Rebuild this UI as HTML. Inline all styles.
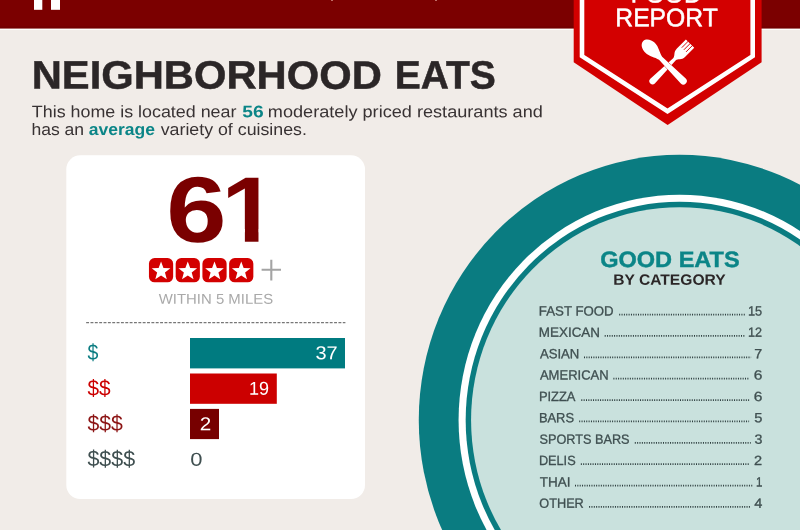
<!DOCTYPE html>
<html lang="en"><head><meta charset="utf-8"><title>Neighborhood Eats</title>
<style>
html,body{margin:0;padding:0}
body{width:800px;height:530px;overflow:hidden;background:#f1ece8;font-family:"Liberation Sans",sans-serif;position:relative}
#pg{position:absolute;left:0;top:0;width:800px;height:530px;overflow:hidden;background:#f1ece8}
.t{position:absolute;left:0;top:0;white-space:pre;line-height:1;transform-origin:0 0;margin:0}
.big{font-weight:700;color:#7a0000}
.one{display:inline-block;transform-origin:0 0;clip-path:polygon(0 0,66.6% 0,66.6% 70%,66.3% 70%,66.3% 100%,42.1% 100%,42.1% 70%,0 70%)}
svg{position:absolute;left:0;top:0}
</style></head><body><div id="pg">
<svg width="800" height="530" viewBox="0 0 800 530">
<rect x="0" y="0" width="800" height="28.4" fill="#7b0000"/>
<rect x="0" y="26.4" width="800" height="2" fill="#6c0000" opacity=".6"/>
<rect x="0" y="29" width="800" height="1" fill="#fdfffb"/>
<rect x="331.2" y="0" width="1.6" height="0.7" fill="#f8c0b8"/><rect x="435.2" y="0" width="1.6" height="0.7" fill="#f8c0b8"/>
<rect x="34" y="0" width="8.3" height="9.8" fill="#fff"/><rect x="51" y="0" width="9" height="9.8" fill="#fff"/>
<ellipse cx="679.64" cy="420.12" rx="260.87" ry="265.28" fill="#0a7c81"/>
<ellipse cx="679.64" cy="420.12" rx="221.07" ry="225.48" fill="#fff"/>
<ellipse cx="679.64" cy="420.12" rx="213.97" ry="218.38" fill="#0a7c81"/>
<ellipse cx="679.64" cy="420.12" rx="208.57" ry="212.98" fill="#c9e1dd"/>
<g stroke="#2c3c3d" stroke-width="1.7" stroke-dasharray="1 1.35">
<line x1="619.20" y1="314.60" x2="745.30" y2="314.60"/>
<line x1="604.70" y1="335.97" x2="745.30" y2="335.97"/>
<line x1="584.00" y1="357.34" x2="751.10" y2="357.34"/>
<line x1="613.40" y1="378.71" x2="749.10" y2="378.71"/>
<line x1="581.30" y1="400.08" x2="749.10" y2="400.08"/>
<line x1="579.20" y1="421.45" x2="749.10" y2="421.45"/>
<line x1="634.80" y1="442.82" x2="750.70" y2="442.82"/>
<line x1="580.85" y1="464.19" x2="749.10" y2="464.19"/>
<line x1="575.00" y1="485.56" x2="753.20" y2="485.56"/>
<line x1="589.10" y1="506.93" x2="750.70" y2="506.93"/>
</g>
<polygon points="573.7,0 761.6,0 761.6,62.3 667.65,125 573.7,62.3" fill="#d30000"/>
<polyline points="582,-3 582,56.1 667.5,111.3 752.7,56.1 752.7,-3" fill="none" stroke="#fff" stroke-width="4.6" stroke-linejoin="miter"/>
<g fill="#fff">
<g transform="translate(668,65.7) rotate(45)">
<path d="M-3.2,21.8 A3.2,3.2 0 0 0 3.2,21.8 L1.7,-9 C1.9,-12.5 5.9,-13 5.9,-18.5 L5.9,-31.2 L-5.9,-31.2 L-5.9,-18.5 C-5.9,-13 -1.9,-12.5 -1.7,-9 Z"/>
<path d="M-3,-32V-22.5M0,-32V-22.5M3,-32V-22.5" stroke="#d30000" stroke-width="0.9" fill="none"/>
</g>
<g transform="translate(668,65.7) rotate(-45)">
<path d="M0,-35 C4.3,-35 6.8,-30 6.8,-25.5 C6.8,-19.5 3.2,-15.5 2.2,-10.5 L3.5,21.6 A3.5,3.5 0 0 1 -3.5,21.6 L-2.2,-10.5 C-3.2,-15.5 -6.8,-19.5 -6.8,-25.5 C-6.8,-30 -4.3,-35 0,-35 Z" stroke="#d30000" stroke-width="0.8" paint-order="stroke"/>
</g>
</g>
<rect x="66.3" y="155.3" width="298.7" height="343.7" rx="14" fill="#fff"/>
<rect x="148.95" y="258.1" width="24.2" height="24.2" rx="5.6" fill="#d30000"/><polygon points="161.05,261.50 163.46,267.98 170.37,268.27 164.95,272.57 166.81,279.23 161.05,275.40 155.29,279.23 157.15,272.57 151.73,268.27 158.64,267.98" fill="#fff"/>
<rect x="175.68" y="258.1" width="24.2" height="24.2" rx="5.6" fill="#d30000"/><polygon points="187.78,261.50 190.19,267.98 197.10,268.27 191.68,272.57 193.54,279.23 187.78,275.40 182.02,279.23 183.88,272.57 178.46,268.27 185.37,267.98" fill="#fff"/>
<rect x="202.41" y="258.1" width="24.2" height="24.2" rx="5.6" fill="#d30000"/><polygon points="214.51,261.50 216.92,267.98 223.83,268.27 218.41,272.57 220.27,279.23 214.51,275.40 208.75,279.23 210.61,272.57 205.19,268.27 212.10,267.98" fill="#fff"/>
<rect x="229.14" y="258.1" width="24.2" height="24.2" rx="5.6" fill="#d30000"/><polygon points="241.24,261.50 243.65,267.98 250.56,268.27 245.14,272.57 247.00,279.23 241.24,275.40 235.48,279.23 237.34,272.57 231.92,268.27 238.83,267.98" fill="#fff"/>
<path d="M261.6,269.8H281M271.3,259.8V280.4" stroke="#a4a4a4" stroke-width="2.1" fill="none"/>
<line x1="86.15" y1="322.7" x2="345.4" y2="322.7" stroke="#777" stroke-width="1.3" stroke-dasharray="2.9 1.45"/>
<rect x="190" y="338.0" width="155" height="30.4" fill="#007b80"/>
<rect x="190" y="373.5" width="86.8" height="30.3" fill="#cc0000"/>
<rect x="190" y="408.9" width="29" height="30.2" fill="#770000"/>
</svg>
<div class="t big" style="font-size:93.2px;transform:matrix(1.1630,.0006,0,1,166.24,163.85)">6<span class="one" style="transform:translate(-4.73px,-0.18px) scaleX(0.9326)">1</span></div>
<div class="t" style="font-size:39.5px;transform:matrix(1.0566,.0005,0,1,31.66,55.52);font-weight:700;color:#2b2627;-webkit-text-stroke:0.5px #2b2627;">NEIGHBORHOOD</div>
<div class="t" style="font-size:39.5px;transform:matrix(0.9869,.0005,0,1,394.71,55.57);font-weight:700;color:#2b2627;-webkit-text-stroke:0.5px #2b2627;">EATS</div>
<div class="t" style="font-size:16.7px;transform:matrix(1.0709,.0005,0,1,31.82,104.15);font-weight:400;color:#383233;">This home is located near</div>
<div class="t" style="font-size:16.7px;transform:matrix(1.1509,.0005,0,1,242.20,104.20);font-weight:700;color:#0b8587;">56</div>
<div class="t" style="font-size:16.7px;transform:matrix(1.0858,.0005,0,1,267.87,104.14);font-weight:400;color:#383233;">moderately priced restaurants and</div>
<div class="t" style="font-size:16.7px;transform:matrix(1.0507,.0005,0,1,31.40,121.99);font-weight:400;color:#383233;">has an</div>
<div class="t" style="font-size:16.7px;transform:matrix(1.0502,.0005,0,1,88.73,121.98);font-weight:700;color:#0b8587;">average</div>
<div class="t" style="font-size:16.7px;transform:matrix(1.0651,.0005,0,1,160.70,121.97);font-weight:400;color:#383233;">variety of cuisines.</div>
<div class="t" style="font-size:14.2px;transform:matrix(1.0514,.0005,0,1,158.75,291.77);font-weight:400;color:#a9a9a9;">WITHIN 5 MILES</div>
<div class="t" style="font-size:22.2px;transform:matrix(0.8813,.0005,0,1,87.40,341.83);font-weight:400;color:#0a7c81;">$</div>
<div class="t" style="font-size:22.2px;transform:matrix(0.9393,.0005,0,1,87.40,377.43);font-weight:400;color:#cc0000;">$$</div>
<div class="t" style="font-size:22.2px;transform:matrix(0.9584,.0005,0,1,87.40,412.83);font-weight:400;color:#8c1414;">$$$</div>
<div class="t" style="font-size:22.2px;transform:matrix(0.9679,.0005,0,1,87.40,448.12);font-weight:400;color:#3f4f50;">$$$$</div>
<div class="t" style="font-size:18.7px;transform:matrix(1.0690,.0005,0,1,315.38,344.29);font-weight:400;color:#fff;">37</div>
<div class="t" style="font-size:18.7px;transform:matrix(0.9643,.0005,0,1,249.07,379.79);font-weight:400;color:#fff;">19</div>
<div class="t" style="font-size:18.7px;transform:matrix(1.1066,.0005,0,1,199.73,415.30);font-weight:400;color:#fff;">2</div>
<div class="t" style="font-size:18.7px;transform:matrix(1.1765,.0005,0,1,190.31,450.70);font-weight:400;color:#3f4f50;">0</div>
<div class="t" style="font-size:22.3px;transform:matrix(1.0558,.0005,0,1,600.18,248.97);font-weight:700;color:#0b8587;-webkit-text-stroke:0.4px #0b8587;">GOOD EATS</div>
<div class="t" style="font-size:14.9px;transform:matrix(1.0476,.0005,0,1,613.22,272.67);font-weight:700;color:#2b2627;">BY CATEGORY</div>
<div class="t" style="font-size:25.3px;transform:matrix(0.9761,.0005,0,1,615.31,5.17);font-weight:400;color:#fff;-webkit-text-stroke:0.5px #fff;">REPORT</div>
<div class="t" style="font-size:25.3px;transform:matrix(0.9699,.0005,0,1,630.73,-18.42);font-weight:400;color:#fff;-webkit-text-stroke:0.5px #fff;">FOOD</div>
<div class="t" style="font-size:13.299999999999999px;transform:matrix(0.9957,.0005,0,1,538.86,304.48);font-weight:400;color:#3f4f50;-webkit-text-stroke:0.3px #3f4f50;">FAST FOOD</div>
<div class="t" style="font-size:13.299999999999999px;transform:matrix(0.9619,.0005,0,1,747.94,304.50);font-weight:400;color:#3f4f50;-webkit-text-stroke:0.3px #3f4f50;">15</div>
<div class="t" style="font-size:13.299999999999999px;transform:matrix(1.0098,.0005,0,1,538.85,325.85);font-weight:400;color:#3f4f50;-webkit-text-stroke:0.3px #3f4f50;">MEXICAN</div>
<div class="t" style="font-size:13.299999999999999px;transform:matrix(0.9473,.0005,0,1,747.95,325.87);font-weight:400;color:#3f4f50;-webkit-text-stroke:0.3px #3f4f50;">12</div>
<div class="t" style="font-size:13.299999999999999px;transform:matrix(0.9878,.0005,0,1,539.90,347.23);font-weight:400;color:#3f4f50;-webkit-text-stroke:0.3px #3f4f50;">ASIAN</div>
<div class="t" style="font-size:13.299999999999999px;transform:matrix(1.0713,.0005,0,1,754.19,347.24);font-weight:400;color:#3f4f50;-webkit-text-stroke:0.3px #3f4f50;">7</div>
<div class="t" style="font-size:13.299999999999999px;transform:matrix(0.9803,.0005,0,1,539.90,368.59);font-weight:400;color:#3f4f50;-webkit-text-stroke:0.3px #3f4f50;">AMERICAN</div>
<div class="t" style="font-size:13.299999999999999px;transform:matrix(1.1707,.0005,0,1,753.70,368.61);font-weight:400;color:#3f4f50;-webkit-text-stroke:0.3px #3f4f50;">6</div>
<div class="t" style="font-size:13.299999999999999px;transform:matrix(0.9713,.0005,0,1,538.89,389.97);font-weight:400;color:#3f4f50;-webkit-text-stroke:0.3px #3f4f50;">PIZZA</div>
<div class="t" style="font-size:13.299999999999999px;transform:matrix(1.1707,.0005,0,1,753.70,389.98);font-weight:400;color:#3f4f50;-webkit-text-stroke:0.3px #3f4f50;">6</div>
<div class="t" style="font-size:13.299999999999999px;transform:matrix(0.9694,.0005,0,1,538.89,411.34);font-weight:400;color:#3f4f50;-webkit-text-stroke:0.3px #3f4f50;">BARS</div>
<div class="t" style="font-size:13.299999999999999px;transform:matrix(1.1050,.0005,0,1,754.16,411.35);font-weight:400;color:#3f4f50;-webkit-text-stroke:0.3px #3f4f50;">5</div>
<div class="t" style="font-size:13.299999999999999px;transform:matrix(0.9548,.0005,0,1,539.50,432.70);font-weight:400;color:#3f4f50;-webkit-text-stroke:0.3px #3f4f50;">SPORTS BARS</div>
<div class="t" style="font-size:13.299999999999999px;transform:matrix(1.0679,.0005,0,1,754.42,432.72);font-weight:400;color:#3f4f50;-webkit-text-stroke:0.3px #3f4f50;">3</div>
<div class="t" style="font-size:13.299999999999999px;transform:matrix(0.9558,.0005,0,1,538.90,454.08);font-weight:400;color:#3f4f50;-webkit-text-stroke:0.3px #3f4f50;">DELIS</div>
<div class="t" style="font-size:13.299999999999999px;transform:matrix(1.0942,.0005,0,1,753.93,454.09);font-weight:400;color:#3f4f50;-webkit-text-stroke:0.3px #3f4f50;">2</div>
<div class="t" style="font-size:13.299999999999999px;transform:matrix(1.0159,.0005,0,1,539.69,475.45);font-weight:400;color:#3f4f50;-webkit-text-stroke:0.3px #3f4f50;">THAI</div>
<div class="t" style="font-size:13.299999999999999px;transform:matrix(0.8694,.0005,0,1,756.01,475.46);font-weight:400;color:#3f4f50;-webkit-text-stroke:0.3px #3f4f50;">1</div>
<div class="t" style="font-size:13.299999999999999px;transform:matrix(0.9560,.0005,0,1,539.30,496.82);font-weight:400;color:#3f4f50;-webkit-text-stroke:0.3px #3f4f50;">OTHER</div>
<div class="t" style="font-size:13.299999999999999px;transform:matrix(1.0967,.0005,0,1,754.19,496.83);font-weight:400;color:#3f4f50;-webkit-text-stroke:0.3px #3f4f50;">4</div>
</div></body></html>
